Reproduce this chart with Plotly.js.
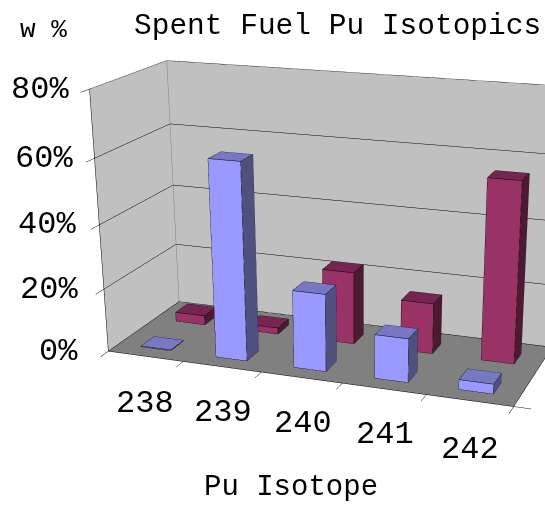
<!DOCTYPE html>
<html><head><meta charset="utf-8"><script src="https://cdn.plot.ly/plotly-3.0.1.min.js"></script>
<style>html,body{margin:0;background:#fff;overflow:hidden;width:545px;height:506px}#w{position:absolute;left:0;top:0;width:545px;height:506px;overflow:hidden}#c{position:absolute;left:-245px;top:-212px;width:1194px;height:1194px}</style></head><body><div id="w"><div id="c"></div></div>
<script>
const isotopes=['238','239','240','241','242'];
const frontValues=[0.2,61,24,13.5,3];
const backValues=[3,2,23,16,56];
const percentTicks=[0,20,40,60,80];
const percentShift=[-28,-24,-21,-19,-19];
const catShift=[-1,1,2,1,0];
const catDrop=[-47,-46,-46,-46,-49];
const frontColors=['#9999ff','#7777c4','#50507f'];
const backColors=['#993366','#732650','#4d1a33'];
const FONT='Liberation Mono', BIG=1194, OX=245, OY=212;
const px=(x)=>(x+OX)/BIG, py=(y)=>1-(y+OY)/BIG;
function bar(x0,x1,y0,y1,h,c){
 const [f,t,s]=c;
 return {type:'mesh3d',x:[x0,x1,x1,x0,x0,x1,x1,x0],y:[y0,y0,y1,y1,y0,y0,y1,y1],z:[0,0,0,0,h,h,h,h],
 i:[0,0,4,4,0,0,1,1,2,2,3,3],j:[1,2,5,6,1,5,2,6,3,7,0,4],k:[2,3,6,7,5,4,6,5,7,6,4,7],
 facecolor:[f,f,t,t,f,f,s,s,f,f,s,s],flatshading:true,lighting:{ambient:1,diffuse:0,specular:0,roughness:1,fresnel:0},hoverinfo:'skip',showscale:false};
}
function edges(x0,x1,y0,y1,h){
 const X=[],Y=[],Z=[];
 const seg=(a,b)=>{X.push(a[0],b[0],null);Y.push(a[1],b[1],null);Z.push(a[2],b[2],null)};
 const p=[[x0,y0],[x1,y0],[x1,y1],[x0,y1]];
 for(let i=0;i<4;i++){const q=p[(i+1)%4];seg([...p[i],0],[...q,0]);seg([...p[i],h],[...q,h]);seg([...p[i],0],[...p[i],h]);}
 return {type:'scatter3d',mode:'lines',x:X,y:Y,z:Z,line:{color:'#000',width:1},hoverinfo:'skip',connectgaps:false};
}
const traces=[];
isotopes.forEach((n,i)=>{
 traces.push(bar(i+.3,i+.7,.28,.64,frontValues[i],frontColors),edges(i+.3,i+.7,.28,.64,frontValues[i]));
 traces.push(bar(i+.3,i+.7,1.28,1.64,backValues[i],backColors),edges(i+.3,i+.7,1.28,1.64,backValues[i]));
});
const N=isotopes.length, D=2, Zmax=80;
traces.push({type:'scatter3d',mode:'lines',x:[N,0,0,0,null,0,0,null,0,N],y:[D,D,0,0,null,D,D,null,D,D],z:[Zmax,Zmax,Zmax,Zmax,null,0,Zmax,null,0,0],line:{color:'#808080',width:1},hoverinfo:'skip',connectgaps:false});
const ann=[];
isotopes.forEach((n,i)=>ann.push({x:i+.5,y:0,z:0,text:n,showarrow:false,xanchor:'center',yanchor:'middle',xshift:catShift[i],yshift:catDrop[i],font:{family:FONT,size:32,color:'#000'}}));
percentTicks.forEach((v,i)=>ann.push({x:0,y:0,z:v,text:v+'%',showarrow:false,xanchor:'right',yanchor:'middle',xshift:percentShift[i],yshift:0,font:{family:FONT,size:32,color:'#000'}}));
const layout={margin:{l:0,r:0,t:0,b:0,pad:0},width:BIG,height:BIG,paper_bgcolor:'#fff',showlegend:false,
 scene:{domain:{x:[0,1],y:[0,1]},aspectmode:'manual',aspectratio:{x:1.5,y:.5756,z:.9445},dragmode:false,
  camera:{eye:{x:1.7274,y:-4.5529,z:1.4114},center:{x:.5731,y:-1.3603,z:0},up:{x:.0021,y:0,z:1},projection:{type:'perspective'}},
  xaxis:{range:[0,N],tickvals:[0,1,2,3,4,5],ticks:'outside',ticklen:14,tickwidth:1,tickcolor:'#000',showline:true,linecolor:'#000',linewidth:1,showticklabels:false,title:{text:''},showbackground:true,backgroundcolor:'#c0c0c0',showgrid:false,zeroline:false,showspikes:false},
  yaxis:{range:[0,D],tickvals:[0,2],ticks:'outside',ticklen:14,tickwidth:1,tickcolor:'#000',showline:true,linecolor:'#000',linewidth:1,showticklabels:false,title:{text:''},showbackground:true,backgroundcolor:'#c0c0c0',showgrid:false,zeroline:false,showspikes:false},
  zaxis:{range:[0,Zmax],tickvals:percentTicks,ticks:'outside',ticklen:10,tickwidth:1,tickcolor:'#000',showline:true,linecolor:'#000',linewidth:1,showticklabels:false,title:{text:''},showbackground:true,backgroundcolor:'#808080',showgrid:true,gridcolor:'#000',gridwidth:1,zeroline:false,showspikes:false},
  annotations:ann},
 title:{text:''},
 annotations:[
  {text:'Spent Fuel Pu Isotopics',xref:'paper',yref:'paper',x:px(337),y:py(26),xanchor:'center',yanchor:'middle',showarrow:false,font:{family:FONT,size:29.5,color:'#000'}},
  {text:'w %',xref:'paper',yref:'paper',x:px(43),y:py(30),xanchor:'center',yanchor:'middle',showarrow:false,font:{family:FONT,size:26,color:'#000'}},
  {text:'Pu Isotope',xref:'paper',yref:'paper',x:px(291),y:py(487),xanchor:'center',yanchor:'middle',showarrow:false,font:{family:FONT,size:29,color:'#000'}}
 ]
};
Plotly.newPlot('c',traces,layout,{displayModeBar:false});
</script></body></html>
